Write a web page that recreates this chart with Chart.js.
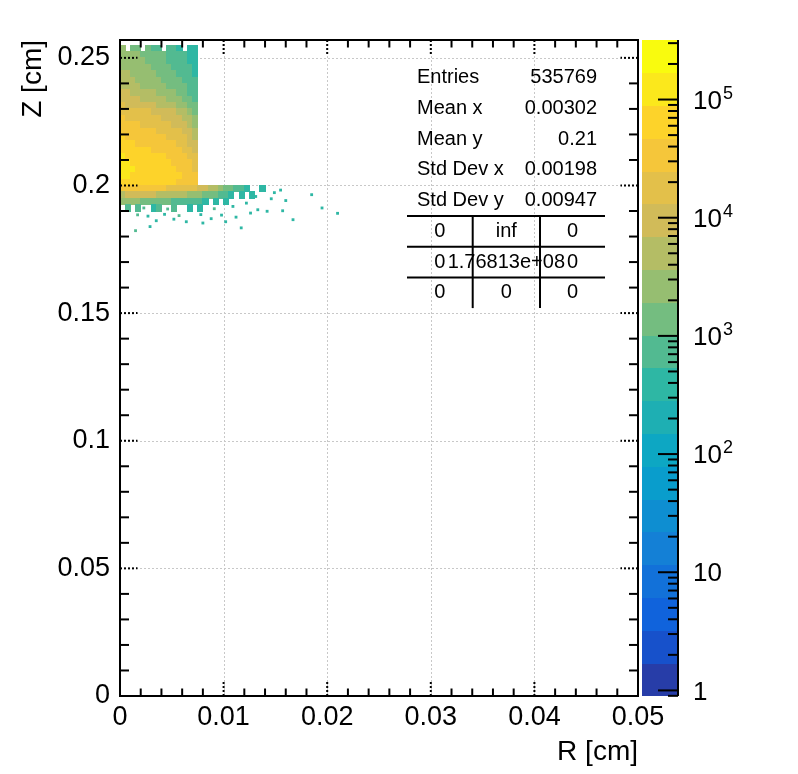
<!DOCTYPE html>
<html>
<head>
<meta charset="utf-8">
<script src="https://cdn.jsdelivr.net/npm/chart.js@4.4.1/dist/chart.umd.min.js"></script>
<style>
  html, body { margin: 0; padding: 0; background: #fff; }
  canvas { display: block; }
</style>
</head>
<body>
<canvas id="chart" width="798" height="774"></canvas>
<script>
// bin edges of the 2D histogram (R across, Z rows from top to bottom)
const rEdges = [0, 0.0005, 0.001, 0.0015, 0.002, 0.0025, 0.003, 0.0035, 0.004, 0.0045,
  0.005, 0.0055, 0.006, 0.0065, 0.007, 0.0075, 0.008, 0.0085, 0.009, 0.0095,
  0.01, 0.0105, 0.011, 0.0115, 0.012, 0.0125, 0.013, 0.0135, 0.014, 0.0145, 0.015]
const zEdges = [0.255, 0.2525, 0.25, 0.2475, 0.245, 0.2425, 0.24, 0.2375, 0.235, 0.2325,
  0.23, 0.2275, 0.225, 0.2225, 0.22, 0.2175, 0.215, 0.2125, 0.21, 0.2075,
  0.205, 0.2025, 0.2, 0.1975, 0.195, 0.1925, 0.19]

// bin contents, one row per Z bin (0 = empty)
const counts = [
  [2700, 0, 1400, 1400, 0, 1400, 750, 750, 0, 750, 750, 400, 0, 400, 400],
  [2700, 2700, 2700, 2700, 1400, 1400, 1400, 1400, 1400, 750, 750, 750, 750, 400, 400],
  [2700, 2700, 2700, 2700, 2700, 1400, 1400, 1400, 1400, 750, 750, 750, 750, 400, 400],
  [2700, 2700, 2700, 2700, 2700, 2700, 1400, 1400, 1400, 1400, 750, 750, 750, 750, 400],
  [5000, 5000, 2700, 2700, 2700, 2700, 2700, 1400, 1400, 1400, 1400, 750, 750, 750, 400],
  [5000, 5000, 5000, 2700, 2700, 2700, 2700, 2700, 1400, 1400, 1400, 1400, 750, 750, 750],
  [5000, 5000, 5000, 5000, 2700, 2700, 2700, 2700, 2700, 1400, 1400, 1400, 1400, 750, 750],
  [9500, 9500, 5000, 5000, 5000, 5000, 5000, 2700, 2700, 2700, 2700, 1400, 1400, 750, 750],
  [9500, 9500, 9500, 9500, 5000, 5000, 5000, 5000, 5000, 2700, 2700, 2700, 1400, 1400, 750],
  [18000, 9500, 9500, 9500, 9500, 9500, 9500, 5000, 5000, 5000, 5000, 2700, 2700, 1400, 1400],
  [18000, 18000, 18000, 18000, 18000, 18000, 9500, 9500, 9500, 9500, 9500, 5000, 5000, 2700, 1400],
  [34000, 18000, 18000, 18000, 18000, 18000, 18000, 18000, 9500, 9500, 9500, 9500, 5000, 5000, 2700],
  [34000, 34000, 34000, 34000, 18000, 18000, 18000, 18000, 18000, 18000, 9500, 9500, 9500, 5000, 2700],
  [34000, 34000, 34000, 34000, 34000, 34000, 34000, 18000, 18000, 18000, 18000, 18000, 9500, 9500, 5000],
  [65000, 34000, 34000, 34000, 34000, 34000, 34000, 34000, 34000, 18000, 18000, 18000, 18000, 9500, 5000],
  [65000, 65000, 65000, 34000, 34000, 34000, 34000, 34000, 34000, 34000, 34000, 18000, 18000, 9500, 9500],
  [65000, 65000, 65000, 65000, 65000, 65000, 34000, 34000, 34000, 34000, 34000, 34000, 18000, 18000, 9500],
  [120000, 65000, 65000, 65000, 65000, 65000, 65000, 65000, 65000, 34000, 34000, 34000, 34000, 18000, 18000],
  [120000, 120000, 65000, 65000, 65000, 65000, 65000, 65000, 65000, 65000, 34000, 34000, 34000, 34000, 18000],
  [120000, 120000, 120000, 65000, 65000, 65000, 65000, 65000, 65000, 65000, 65000, 34000, 34000, 34000, 18000],
  [120000, 120000, 65000, 65000, 65000, 65000, 65000, 65000, 65000, 65000, 65000, 65000, 34000, 34000, 34000],
  [65000, 65000, 65000, 65000, 65000, 65000, 65000, 65000, 65000, 65000, 65000, 34000, 34000, 34000, 34000],
  [34000, 34000, 34000, 34000, 34000, 34000, 34000, 34000, 34000, 18000, 18000, 18000, 18000, 18000, 18000,
    9500, 9500, 5000, 5000, 2700, 1400, 1400, 750, 750, 400, 0, 0, 400],
  [5000, 9500, 9500, 9500, 9500, 9500, 9500, 5000, 5000, 5000, 5000, 5000, 5000, 2700, 2700,
    2700, 1400, 1400, 1400, 750, 750, 400, 0, 400, 0, 400],
  [2700, 2700, 2700, 2700, 1400, 1400, 1400, 1400, 1400, 1400, 750, 750, 750, 750, 750,
    750, 400, 0, 400, 0, 400],
  [0, 750, 0, 750, 0, 0, 400, 750, 0, 0, 750, 0, 0, 400, 0, 400]
]

// isolated filled bins outside the main block
const sparseR = [0.0185, 0.021, 0.0195, 0.0167, 0.0157, 0.016, 0.0155, 0.0149, 0.0146, 0.0142,
  0.0117, 0.0102, 0.008, 0.0015, 0.0029, 0.0017, 0.0027, 0.0043, 0.0057, 0.0078,
  0.0098, 0.0035, 0.0052, 0.0064, 0.0088, 0.0112, 0.0126, 0.0133, 0.0131, 0.0122,
  0.0109, 0.0091, 0.0046, 0.0023]
const sparseZ = [0.1964, 0.1891, 0.1912, 0.1866, 0.1901, 0.1941, 0.1982, 0.1972, 0.1948, 0.1899,
  0.1834, 0.1858, 0.1853, 0.1823, 0.1839, 0.1885, 0.188, 0.1887, 0.1882, 0.1886,
  0.1884, 0.1862, 0.1868, 0.1858, 0.187, 0.1876, 0.1892, 0.1905, 0.1957, 0.1931,
  0.1918, 0.1909, 0.1908, 0.1912]
const sparseCounts = [400, 400, 400, 400, 400, 400, 400, 400, 400, 400,
  400, 400, 400, 750, 400, 750, 400, 400, 750, 400,
  400, 400, 400, 400, 400, 400, 400, 400, 400, 400,
  400, 750, 750, 750]

const rTicks = [0, 0.01, 0.02, 0.03, 0.04, 0.05]
const zTicks = [0, 0.05, 0.1, 0.15, 0.2, 0.25]
const paletteTicks = [1, 10, 100, 1000, 10000, 100000]
const paletteRange = [0.897, 3.19e5]

const statNames = ['Entries', 'Mean x', 'Mean y', 'Std Dev x', 'Std Dev y']
const statValues = ['535769', '0.00302', '0.21', '0.00198', '0.00947']
const overflowCells = [['0', 'inf', '0'], ['0', '1.76813e+08', '0'], ['0', '0', '0']]

const FONT = '"Liberation Sans", Arial, Helvetica, sans-serif'
const NCONT = 20

// ROOT kBird palette
const birdStops = [0.0, 0.125, 0.25, 0.375, 0.5, 0.625, 0.75, 0.875, 1.0]
const birdR = [0.2082, 0.0592, 0.0780, 0.0232, 0.1802, 0.5301, 0.8186, 0.9956, 0.9764]
const birdG = [0.1664, 0.3599, 0.5041, 0.6419, 0.7178, 0.7492, 0.7328, 0.7862, 0.9832]
const birdB = [0.5293, 0.8684, 0.8385, 0.7914, 0.6425, 0.4662, 0.3499, 0.1968, 0.0539]

function bird(f) {
  let i = 0
  while (i < birdStops.length - 2 && f > birdStops[i + 1]) i++
  const t = (f - birdStops[i]) / (birdStops[i + 1] - birdStops[i])
  const c = a => Math.round(255 * (a[i] + (a[i + 1] - a[i]) * t))
  return `rgb(${c(birdR)},${c(birdG)},${c(birdB)})`
}
const bandColor = k => bird(Math.floor((k + 0.99) * 255 / NCONT) / 254)

const lzMin = Math.log10(paletteRange[0])
const lzMax = Math.log10(paletteRange[1])
function colorFor(v) {
  let k = Math.floor((Math.log10(v) - lzMin) / (lzMax - lzMin) * NCONT)
  k = Math.max(0, Math.min(NCONT - 1, k))
  return bandColor(k)
}

function line(ctx, x1, y1, x2, y2) {
  ctx.beginPath()
  ctx.moveTo(x1, y1)
  ctx.lineTo(x2, y2)
  ctx.stroke()
}

const rootStyle = {
  id: 'rootStyle',
  beforeDatasetsDraw(chart) {
    const { ctx, chartArea: a, scales: { x, y } } = chart
    ctx.save()
    // dotted grid
    ctx.strokeStyle = '#c8c8c8'
    ctx.lineWidth = 1
    ctx.setLineDash([2, 2])
    rTicks.slice(1, -1).forEach(v => {
      const px = Math.round(x.getPixelForValue(v)) + 0.5
      line(ctx, px, a.top, px, a.bottom)
    })
    zTicks.slice(1).forEach(v => {
      const py = Math.round(y.getPixelForValue(v)) + 0.5
      line(ctx, a.left, py, a.right, py)
    })
    ctx.setLineDash([])
    // histogram cells
    counts.forEach((row, i) => {
      const y0 = Math.floor(y.getPixelForValue(zEdges[i]))
      const y1 = Math.ceil(y.getPixelForValue(zEdges[i + 1]))
      row.forEach((v, j) => {
        if (!v) return
        const x0 = Math.floor(x.getPixelForValue(rEdges[j]))
        const x1 = Math.ceil(x.getPixelForValue(rEdges[j + 1]))
        ctx.fillStyle = colorFor(v)
        ctx.fillRect(x0, y0, x1 - x0, y1 - y0)
      })
    })
    ctx.restore()
  },
  afterDatasetsDraw(chart) {
    const { ctx, chartArea: a, scales: { x, y, z } } = chart
    ctx.save()
    ctx.strokeStyle = '#000'
    ctx.lineWidth = 2

    // ticks on all four sides, majors dotted like ROOT with grid on
    for (let i = 0; i <= 25; i++) {
      const major = i % 5 === 0
      const len = major ? 15.5 : 7.5
      const px = x.getPixelForValue(i * 0.002)
      ctx.setLineDash(major ? [2, 2] : [])
      line(ctx, px, a.bottom, px, a.bottom - len)
      line(ctx, px, a.top, px, a.top + len)
    }
    for (let i = 0; i <= 25; i++) {
      const major = i % 5 === 0
      const len = major ? 17.5 : 9
      const py = y.getPixelForValue(i * 0.01)
      ctx.setLineDash(major ? [2, 2] : [])
      line(ctx, a.left, py, a.left + len, py)
      line(ctx, a.right, py, a.right - len, py)
    }
    ctx.setLineDash([])
    ctx.strokeRect(a.left, a.top, a.right - a.left, a.bottom - a.top)

    // colour palette
    const pL = a.right + 4
    const pR = a.right + 39
    for (let k = 0; k < NCONT; k++) {
      const lo = Math.pow(10, lzMin + k * (lzMax - lzMin) / NCONT)
      const hi = Math.pow(10, lzMin + (k + 1) * (lzMax - lzMin) / NCONT)
      const yLo = Math.ceil(z.getPixelForValue(lo))
      const yHi = Math.floor(z.getPixelForValue(hi))
      ctx.fillStyle = bandColor(k)
      ctx.fillRect(pL, yHi, pR - pL, yLo - yHi)
    }
    line(ctx, pR + 1, a.top, pR + 1, a.bottom)
    for (let d = -1; d <= 5; d++) {
      for (let m = 1; m <= 9; m++) {
        const v = m * Math.pow(10, d)
        if (v < paletteRange[0] || v > paletteRange[1]) continue
        const py = z.getPixelForValue(v)
        line(ctx, pR + 1, py, pR + 1 - (m === 1 ? 20 : 10), py)
      }
    }
    ctx.fillStyle = '#000'
    ctx.textAlign = 'left'
    ctx.textBaseline = 'middle'
    paletteTicks.forEach(v => {
      const py = z.getPixelForValue(v) + 2
      const e = Math.round(Math.log10(v))
      const base = e < 2 ? String(v) : '10'
      ctx.font = `26px ${FONT}`
      ctx.fillText(base, pR + 16, py)
      if (e >= 2) {
        const w = ctx.measureText(base).width
        ctx.font = `18px ${FONT}`
        ctx.fillText(String(e), pR + 17 + w, py - 8)
      }
    })

    // statistics box
    const bx0 = a.left + 287
    const bx1 = a.left + 485
    const top = a.top + 22.5
    const lh = 30.7
    ctx.font = `20px ${FONT}`
    statNames.forEach((name, i) => {
      const py = top + lh * (i + 0.5)
      ctx.textAlign = 'left'
      ctx.fillText(name, bx0 + 10, py)
      ctx.textAlign = 'right'
      ctx.fillText(statValues[i], bx1 - 8, py)
    })
    const cols = [bx0, bx0 + 65.7, bx0 + 133, bx1]
    for (let r = 0; r < 3; r++) {
      const ly = top + lh * (5 + r)
      line(ctx, bx0, ly, bx1, ly)
    }
    line(ctx, cols[1], top + lh * 5, cols[1], top + lh * 8)
    line(ctx, cols[2], top + lh * 5, cols[2], top + lh * 8)
    ctx.textAlign = 'center'
    overflowCells.forEach((row, r) => {
      const py = top + lh * (5.5 + r)
      row.forEach((txt, c) => ctx.fillText(txt, (cols[c] + cols[c + 1]) / 2, py))
    })
    ctx.restore()
  }
}

const tickFmt = v => String(+Number(v).toFixed(4))

new Chart(document.getElementById('chart').getContext('2d'), {
  type: 'scatter',
  data: {
    datasets: [{
      data: sparseR.map((r, i) => ({ x: r, y: sparseZ[i] })),
      backgroundColor: sparseCounts.map(colorFor),
      pointStyle: 'rect',
      pointRadius: 2,
      pointHoverRadius: 2,
      borderWidth: 0,
      xAxisID: 'x',
      yAxisID: 'y'
    }]
  },
  options: {
    responsive: false,
    animation: false,
    devicePixelRatio: 1,
    events: [],
    layout: { padding: { top: 40, right: 0, bottom: 0, left: 0 } },
    plugins: { legend: { display: false }, tooltip: { enabled: false } },
    scales: {
      x: {
        type: 'linear',
        position: 'bottom',
        min: 0,
        max: 0.05,
        afterBuildTicks: s => { s.ticks = rTicks.map(value => ({ value })) },
        afterFit: s => { s.height = 78 },
        grid: { display: false, drawTicks: false },
        border: { display: false },
        ticks: { callback: tickFmt, color: '#000', padding: 5, maxRotation: 0, autoSkip: false, font: { family: FONT, size: 27 } },
        title: { display: true, text: 'R [cm]', align: 'end', color: '#000', font: { family: FONT, size: 28 }, padding: { top: 0, bottom: 5 } }
      },
      y: {
        type: 'linear',
        position: 'left',
        min: 0,
        max: 0.257,
        afterBuildTicks: s => { s.ticks = zTicks.map(value => ({ value })) },
        afterFit: s => { s.width = 120 },
        grid: { display: false, drawTicks: false },
        border: { display: false },
        ticks: { callback: tickFmt, color: '#000', padding: 10, autoSkip: false, font: { family: FONT, size: 27 } },
        title: { display: true, text: 'Z [cm]', align: 'end', color: '#000', font: { family: FONT, size: 28 }, padding: { top: 16, bottom: 0 } }
      },
      z: {
        type: 'logarithmic',
        axis: 'y',
        position: 'right',
        min: paletteRange[0],
        max: paletteRange[1],
        afterFit: s => { s.width = 160 },
        grid: { display: false, drawTicks: false },
        border: { display: false },
        ticks: { display: false }
      }
    }
  },
  plugins: [rootStyle]
})
</script>
</body>
</html>
